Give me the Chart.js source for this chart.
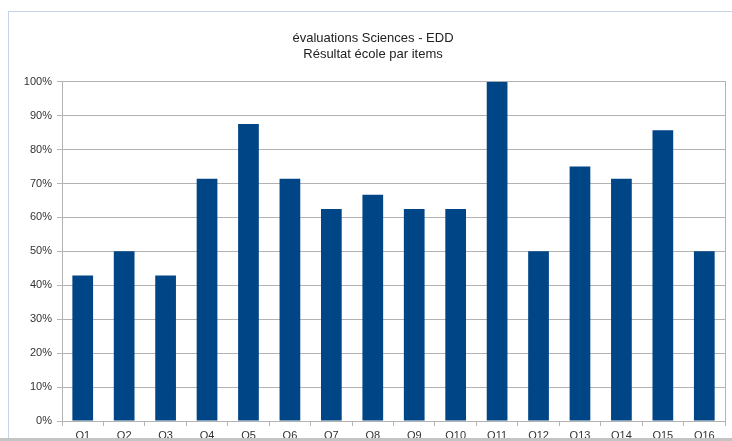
<!DOCTYPE html>
<html>
<head>
<meta charset="utf-8">
<script src="https://cdn.jsdelivr.net/npm/chart.js@4"></script>
<style>
  html, body { margin: 0; padding: 0; background: #fff; }
  #wrap { position: relative; width: 732px; height: 441px; overflow: hidden; }
  #frame { position: absolute; left: 8px; top: 11px; right: -2px; bottom: -2px;
           border-left: 1px solid #c6d4ea; border-top: 1px solid #c6d4ea; pointer-events: none; }
  #strip { position: absolute; left: 0; right: 0; top: 438px; height: 3px; background: #c4c4c4; }
  canvas { position: absolute; left: 0; top: 0; }
</style>
</head>
<body>
<div id="wrap">
  <canvas id="c" width="732" height="441"></canvas>
  <div id="frame"></div>
  <div id="strip"></div>
</div>
<script>
const categories = ['Q1','Q2','Q3','Q4','Q5','Q6','Q7','Q8','Q9','Q10','Q11','Q12','Q13','Q14','Q15','Q16'];
const resultatEcole = [42.9, 50, 42.9, 71.4, 87.5, 71.4, 62.5, 66.7, 62.5, 62.5, 100, 50, 75, 71.4, 85.7, 50];
const titleLines = ['évaluations Sciences - EDD', 'Résultat école par items'];
const yMin = 0, yMax = 100, yStep = 10;

const gridColor = '#b3b3b3';
const textColor = '#333333';

new Chart(document.getElementById('c'), {
  type: 'bar',
  data: {
    labels: categories,
    datasets: [{
      label: 'Résultat école',
      data: resultatEcole,
      backgroundColor: '#004586',
      borderWidth: 0,
      barPercentage: 0.5,
      categoryPercentage: 1.0
    }]
  },
  options: {
    responsive: false,
    devicePixelRatio: 1,
    animation: false,
    layout: { padding: { left: 21, right: 7, top: 12, bottom: 0 } },
    plugins: {
      legend: { display: false },
      tooltip: { enabled: false },
      title: {
        display: true,
        text: titleLines,
        color: '#222222',
        font: { family: 'Liberation Sans', size: 13, weight: 'normal', lineHeight: 1.18 },
        padding: { top: 19, bottom: 20 }
      }
    },
    scales: {
      x: {
        offset: true,
        grid: { offset: true, drawOnChartArea: false, drawTicks: true, tickLength: 5, color: gridColor },
        border: { display: true, color: gridColor },
        ticks: { color: textColor, font: { family: 'Liberation Sans', size: 11 }, padding: 3, maxRotation: 0, autoSkip: false },
        afterFit(scale) { scale.height = 20; }
      },
      y: {
        min: yMin, max: yMax,
        grid: { color: gridColor, tickLength: 5 },
        border: { display: true, color: gridColor },
        ticks: {
          stepSize: yStep,
          color: textColor,
          font: { family: 'Liberation Sans', size: 11 },
          padding: 5,
          callback: v => v + '%'
        },
        afterFit(scale) { scale.width = 41; }
      },
      y2: {
        position: 'right',
        min: yMin, max: yMax,
        grid: { display: false, drawOnChartArea: false, drawTicks: false },
        border: { display: true, color: gridColor },
        ticks: { display: false },
        afterFit(scale) { scale.width = 0; }
      }
    }
  }
});
</script>
</body>
</html>
